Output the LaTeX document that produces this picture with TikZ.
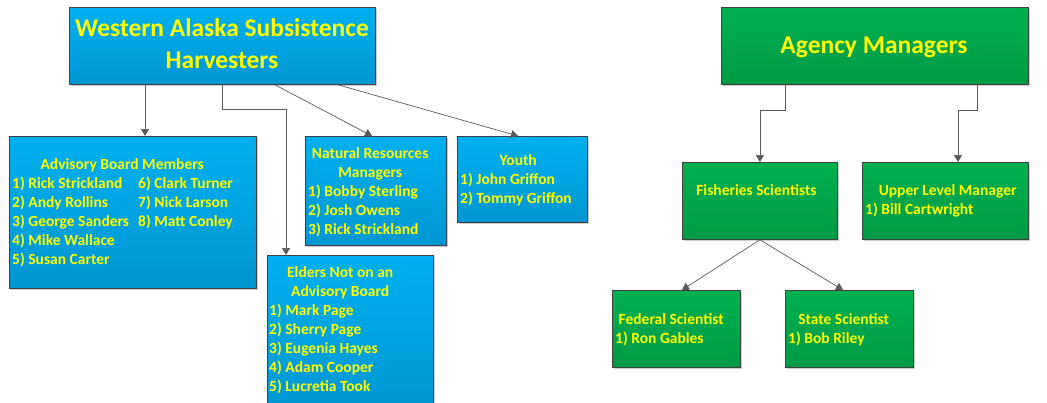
\documentclass[tikz,border=0pt]{standalone}
\usepackage{fontspec}
\setmainfont{Carlito}
\usetikzlibrary{arrows.meta,shadows}

\definecolor{blueTop}{HTML}{00B0F0}
\definecolor{blueBot}{HTML}{0096D2}
\definecolor{greenTop}{HTML}{00B050}
\definecolor{greenBot}{HTML}{009A46}
\definecolor{edge}{HTML}{404040}
\definecolor{wire}{HTML}{595959}
\definecolor{label}{HTML}{FFFF00}

\newcommand{\ctr}[2]{\makebox[#1pt][c]{#2}}
\newcommand{\lft}[2]{\makebox[#1pt][l]{#2}}

\tikzset{
  panel/.style={draw=edge, line width=0.8pt, inner sep=0pt, anchor=north west,
    drop shadow={shadow xshift=2pt, shadow yshift=-2pt, fill=black!25, opacity=0.8}},
  bluebox/.style={panel, top color=blueTop, bottom color=blueBot},
  greenbox/.style={panel, top color=greenTop, bottom color=greenBot},
  txt/.style={text=label, inner sep=0pt, font=\fontsize{15.5}{19}\selectfont\bfseries},
  bigtxt/.style={text=label, inner sep=0pt, font=\fontsize{25.5}{31.6}\selectfont\bfseries},
  conn/.style={draw=wire, line width=0.7pt, -{Triangle[width=8pt,length=7pt]}},
}

\begin{document}
\begin{tikzpicture}[x=1pt,y=-1pt]
\useasboundingbox (0,0) rectangle (1047,402);
\clip (0,0) rectangle (1047,402);

% boxes
\node[bluebox, minimum width=306pt, minimum height=77pt] (wash) at (69,7) {};
\node[bluebox, minimum width=247pt, minimum height=152pt] (adv) at (9,136) {};
\node[bluebox, minimum width=141pt, minimum height=109pt] (nrm) at (305,136) {};
\node[bluebox, minimum width=130pt, minimum height=86pt] (youth) at (457,136) {};
\node[bluebox, minimum width=166pt, minimum height=160pt] (eld) at (267,255) {};
\node[greenbox, minimum width=307pt, minimum height=77pt] (agency) at (721,7) {};
\node[greenbox, minimum width=155pt, minimum height=77pt] (fish) at (682,162) {};
\node[greenbox, minimum width=166pt, minimum height=77pt] (upper) at (862,162) {};
\node[greenbox, minimum width=128pt, minimum height=77pt] (fed) at (612,290) {};
\node[greenbox, minimum width=128pt, minimum height=77pt] (state) at (785,290) {};

% texts
\node[bigtxt, anchor=base] (washtxt) at (222,36.7)
  {\begin{tabular}[t]{@{}c@{}}Western Alaska Subsistence\\Harvesters\end{tabular}};
\node[bigtxt, anchor=base] (agencytxt) at (874,53.3) {Agency Managers};

\node[txt, anchor=base west] (advtxt) at (12,169)
  {\begin{tabular}[t]{@{}l@{}}
   \ctr{220}{Advisory Board Members}\\
   \lft{126}{1) Rick Strickland}6) Clark Turner\\
   \lft{126}{2) Andy Rollins}7) Nick Larson\\
   \lft{126}{3) George Sanders}8) Matt Conley\\
   4) Mike Wallace\\
   5) Susan Carter
   \end{tabular}};
\node[txt, anchor=base west] (nrmtxt) at (308,158)
  {\begin{tabular}[t]{@{}l@{}}
   \ctr{124}{Natural Resources}\\
   \ctr{124}{Managers}\\
   1) Bobby Sterling\\
   2) Josh Owens\\
   3) Rick Strickland
   \end{tabular}};
\node[txt, anchor=base west] (youthtxt) at (460,165)
  {\begin{tabular}[t]{@{}l@{}}
   \ctr{116}{Youth}\\
   1) John Griffon\\
   2) Tommy Griffon
   \end{tabular}};
\node[txt, anchor=base west] (eldtxt) at (269,277)
  {\begin{tabular}[t]{@{}l@{}}
   \ctr{142}{Elders Not on an}\\
   \ctr{142}{Advisory Board}\\
   1) Mark Page\\
   2) Sherry Page\\
   3) Eugenia Hayes\\
   4) Adam Cooper\\
   5) Lucretia Took
   \end{tabular}};
\node[txt, anchor=base] (fishtxt) at (756.5,195) {Fisheries Scientists};
\node[txt, anchor=base west] (uppertxt) at (865,195)
  {\begin{tabular}[t]{@{}l@{}}
   \ctr{165}{Upper Level Manager}\\
   1) Bill Cartwright
   \end{tabular}};
\node[txt, anchor=base west] (fedtxt) at (615,324)
  {\begin{tabular}[t]{@{}l@{}}
   \ctr{112}{Federal Scientist}\\
   1) Ron Gables
   \end{tabular}};
\node[txt, anchor=base west] (statetxt) at (788,324)
  {\begin{tabular}[t]{@{}l@{}}
   \ctr{111}{State Scientist}\\
   1) Bob Riley
   \end{tabular}};

% connectors
\draw[conn] ([xshift=76pt]wash.south west) -- ([xshift=136pt]adv.north west);
\draw[conn] (wash.south) -- ++(0,25) -| ([xshift=19pt]eld.north west);
\draw[conn] ([xshift=206pt]wash.south west) -- ([xshift=67pt]nrm.north west);
\draw[conn] ([xshift=269pt]wash.south west) -- ([xshift=61pt]youth.north west);
\draw[conn] ([xshift=64pt]agency.south west) -- ++(0,26) -| (fish.north);
\draw[conn] ([xshift=256pt]agency.south west) -- ++(0,26) -| ([xshift=96pt]upper.north west);
\draw[conn] (fish.south) -- ([xshift=70pt]fed.north west);
\draw[conn] (fish.south) -- ([xshift=58pt]state.north west);
\end{tikzpicture}
\end{document}
